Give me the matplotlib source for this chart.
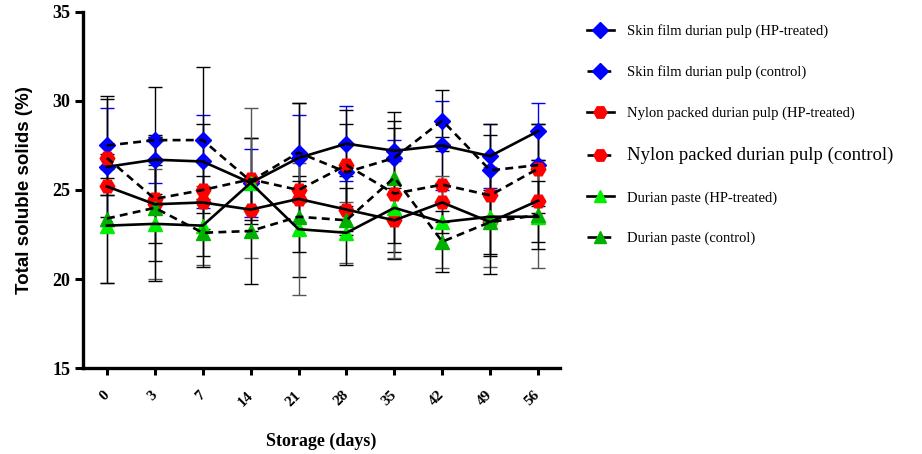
import matplotlib
matplotlib.use("Agg")
import matplotlib.pyplot as plt
from matplotlib.lines import Line2D

# storage days (categorical, evenly spaced)
days = ["0", "3", "7", "14", "21", "28", "35", "42", "49", "56"]

skin_hp = [26.3, 26.7, 26.6, 25.4, 26.8, 27.6, 27.2, 27.5, 26.9, 28.3]
skin_hp_sd = [3.3, 1.3, 2.6, 1.9, 2.4, 2.1, 0.6, 2.5, 1.8, 1.6]
skin_ctrl = [27.5, 27.8, 27.8, 25.5, 27.1, 26.0, 26.8, 28.9, 26.1, 26.4]
skin_ctrl_sd = [2.8, 3.0, 4.1, 2.4, 2.8, 3.5, 2.1, 1.7, 2.6, 2.3]
nylon_hp = [25.2, 24.2, 24.3, 23.9, 24.5, 23.9, 23.3, 24.3, 23.2, 24.4]
nylon_hp_sd = [0.5, 2.2, 1.5, 1.2, 1.3, 1.2, 1.8, 1.1, 1.8, 2.3]
nylon_ctrl = [26.8, 24.5, 25.0, 25.6, 25.0, 26.4, 24.8, 25.3, 24.7, 26.2]
nylon_ctrl_sd = [3.3, 3.5, 3.7, 2.3, 4.9, 2.3, 3.7, 2.7, 3.4, 2.5]
paste_hp = [23.0, 23.1, 23.0, 25.4, 22.8, 22.6, 24.0, 23.2, 23.5, 23.5]
paste_hp_sd = [3.2, 3.1, 2.2, 4.2, 3.7, 1.7, 2.8, 2.6, 2.8, 2.9]
paste_ctrl = [23.4, 24.0, 22.6, 22.7, 23.5, 23.3, 25.7, 22.1, 23.2, 23.6]
paste_ctrl_sd = [3.6, 4.1, 1.9, 3.0, 2.0, 2.5, 3.7, 1.7, 2.9, 1.9]

series = [
    ("Skin film durian pulp (HP-treated)", skin_hp, skin_hp_sd, "D", "#0000ff", "-", "#0000ff"),
    ("Skin film durian pulp (control)", skin_ctrl, skin_ctrl_sd, "D", "#0000ff", "--", "black"),
    ("Nylon packed durian pulp (HP-treated)", nylon_hp, nylon_hp_sd, "H", "#ff0000", "-", "black"),
    ("Nylon packed durian pulp (control)", nylon_ctrl, nylon_ctrl_sd, "H", "#ff0000", "--", "black"),
    ("Durian paste (HP-treated)", paste_hp, paste_hp_sd, "^", "#00ee00", "-", "#555555"),
    ("Durian paste (control)", paste_ctrl, paste_ctrl_sd, "^", "#00b000", "--", "black"),
]
msize = {"D": 8.5, "H": 10.5, "^": 9.5}

fig = plt.figure(figsize=(9.22, 4.54), dpi=100)
ax = fig.add_axes([0.090, 0.189, 0.517, 0.785])
x = list(range(len(days)))

handles = []
for label, y, sd, mk, col, ls, ecol in series:
    ax.errorbar(x, y, yerr=sd, fmt="none", ecolor=ecol, elinewidth=1.0,
                capsize=5, capthick=1.0, zorder=2)
    ax.plot(x, y, linestyle="none", marker=mk, markersize=msize[mk],
            color=col, markeredgecolor=col, zorder=3)
    ax.plot(x, y, linestyle=ls, color="black", linewidth=1.9,
            dashes=(3, 2) if ls == "--" else (None, None), zorder=4)
    handles.append(Line2D([], [], color="black", linestyle=ls, linewidth=1.9,
                          marker=mk, markersize=msize[mk] * 0.9,
                          markerfacecolor=col, markeredgecolor=col))

ax.set_xlim(-0.5, 9.45)
ax.set_ylim(15, 35)
ax.set_yticks([15, 20, 25, 30, 35])
ax.set_xticks(x)
ax.set_xticklabels(days, rotation=45, ha="right", va="center",
                   rotation_mode="anchor", fontfamily="Liberation Serif",
                   fontweight="bold", fontsize=11)
for lab in ax.get_yticklabels():
    lab.set_fontfamily("Liberation Serif")
    lab.set_fontweight("bold")
    lab.set_fontsize(13)

for s in ["top", "right"]:
    ax.spines[s].set_visible(False)
for s in ["left", "bottom"]:
    ax.spines[s].set_linewidth(2.4)
ax.tick_params(axis="y", width=2.2, length=6, pad=3)
ax.tick_params(axis="x", width=2.2, length=5, pad=13)

ax.set_xlabel("Storage (days)", fontfamily="Liberation Serif", fontweight="bold",
              fontsize=13, labelpad=17)
ax.set_ylabel("Total soluble solids (%)", fontfamily="Liberation Sans",
              fontweight="bold", fontsize=13.5, labelpad=14)

leg = fig.legend(handles=handles, labels=[s[0] for s in series], loc="upper left",
                 bbox_to_anchor=(0.622, 0.975), frameon=False, handlelength=1.9,
                 handletextpad=0.9, labelspacing=1.85,
                 prop={"family": "Liberation Serif", "size": 10.5})
leg.get_texts()[3].set_fontsize(13.5)

fig.savefig("out.png", dpi=100)
